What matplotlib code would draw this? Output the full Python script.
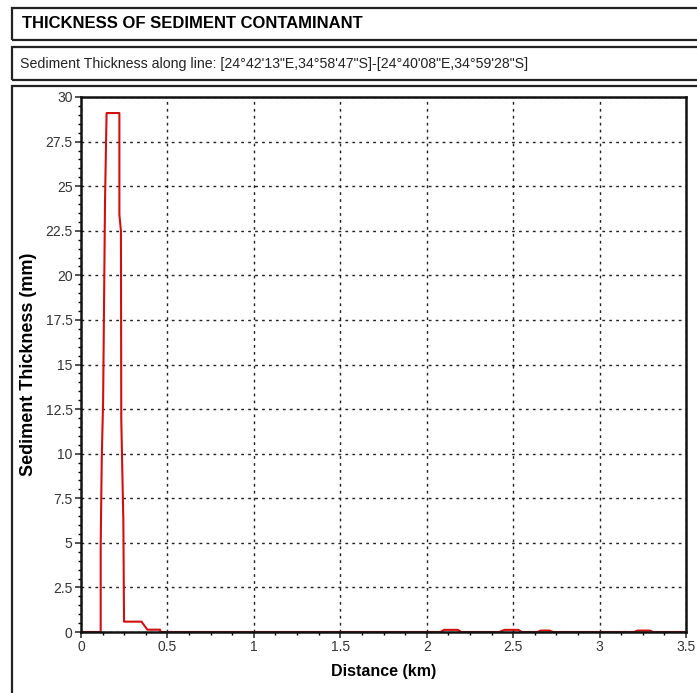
import matplotlib.pyplot as plt
from matplotlib.patches import Rectangle
from matplotlib.ticker import MultipleLocator

plt.rcParams['font.family'] = ['Liberation Sans', 'DejaVu Sans']

# sediment thickness profile along the line
distance = [0.0, 0.114, 0.114, 0.120, 0.128, 0.139, 0.148, 0.222, 0.222, 0.231, 0.233,
            0.245, 0.249, 0.35, 0.384, 0.457, 0.46, 2.08, 2.1, 2.18, 2.2, 2.42, 2.45,
            2.53, 2.55, 2.64, 2.66, 2.71, 2.73, 3.2, 3.22, 3.29, 3.31, 3.5]
thickness = [0.0, 0.0, 4.9, 9.7, 13.0, 24.2, 29.1, 29.1, 23.4, 22.5, 11.9,
             6.2, 0.58, 0.58, 0.13, 0.13, 0.0, 0.0, 0.12, 0.12, 0.0, 0.0, 0.12,
             0.12, 0.0, 0.0, 0.08, 0.08, 0.0, 0.0, 0.08, 0.08, 0.0, 0.0]

title = "THICKNESS OF SEDIMENT CONTAMINANT"
subtitle = "Sediment Thickness along line: [24\u00b042'13\"E,34\u00b058'47\"S]-[24\u00b040'08\"E,34\u00b059'28\"S]"

fig = plt.figure(figsize=(6.97, 6.93), dpi=100)
W, H = 697, 693

def box(x0, y0, x1, y1):
    fig.patches.append(Rectangle((x0 / W, 1 - y1 / H), (x1 - x0) / W, (y1 - y0) / H,
                                 transform=fig.transFigure, fill=False,
                                 edgecolor='#222222', linewidth=1.6))

box(12, 8, 705, 40)
box(12, 47, 705, 80)
box(12, 86, 705, 705)

fig.text(22 / W, 1 - 24 / H, title, fontsize=12, fontweight='bold', va='center')
fig.text(20 / W, 1 - 64 / H, subtitle, fontsize=10.2, va='center', color='#222222')

ax = fig.add_axes([81 / W, 1 - 632 / H, (686 - 81) / W, (632 - 97) / H])
ax.plot(distance, thickness, color='#d01010', linewidth=1.5)

ax.set_xlim(0, 3.5)
ax.set_ylim(0, 30)
ax.xaxis.set_major_locator(MultipleLocator(0.5))
ax.xaxis.set_minor_locator(MultipleLocator(0.125))
ax.yaxis.set_major_locator(MultipleLocator(2.5))
ax.yaxis.set_minor_locator(MultipleLocator(0.5))
ax.set_xticks([0, 0.5, 1, 1.5, 2, 2.5, 3, 3.5])
ax.set_xticklabels(['0', '0.5', '1', '1.5', '2', '2.5', '3', '3.5'])
ax.set_yticks([0, 2.5, 5, 7.5, 10, 12.5, 15, 17.5, 20, 22.5, 25, 27.5, 30])
ax.set_yticklabels(['0', '2.5', '5', '7.5', '10', '12.5', '15', '17.5', '20',
                    '22.5', '25', '27.5', '30'])
ax.tick_params(axis='both', which='major', labelsize=10, length=4, width=1.2,
               colors='#333333', pad=2)
ax.tick_params(axis='both', which='minor', length=2.5, width=1)

ax.grid(True, which='major', linestyle=(0, (2, 3)), color='#222222', linewidth=1)
for s in ax.spines.values():
    s.set_linewidth(1.8)
    s.set_color('#111111')

ax.set_xlabel('Distance (km)', fontsize=11.5, fontweight='bold', labelpad=7)
ax.set_ylabel('Sediment Thickness (mm)', fontsize=13, fontweight='bold', labelpad=6)

fig.savefig('out.png', dpi=100)
